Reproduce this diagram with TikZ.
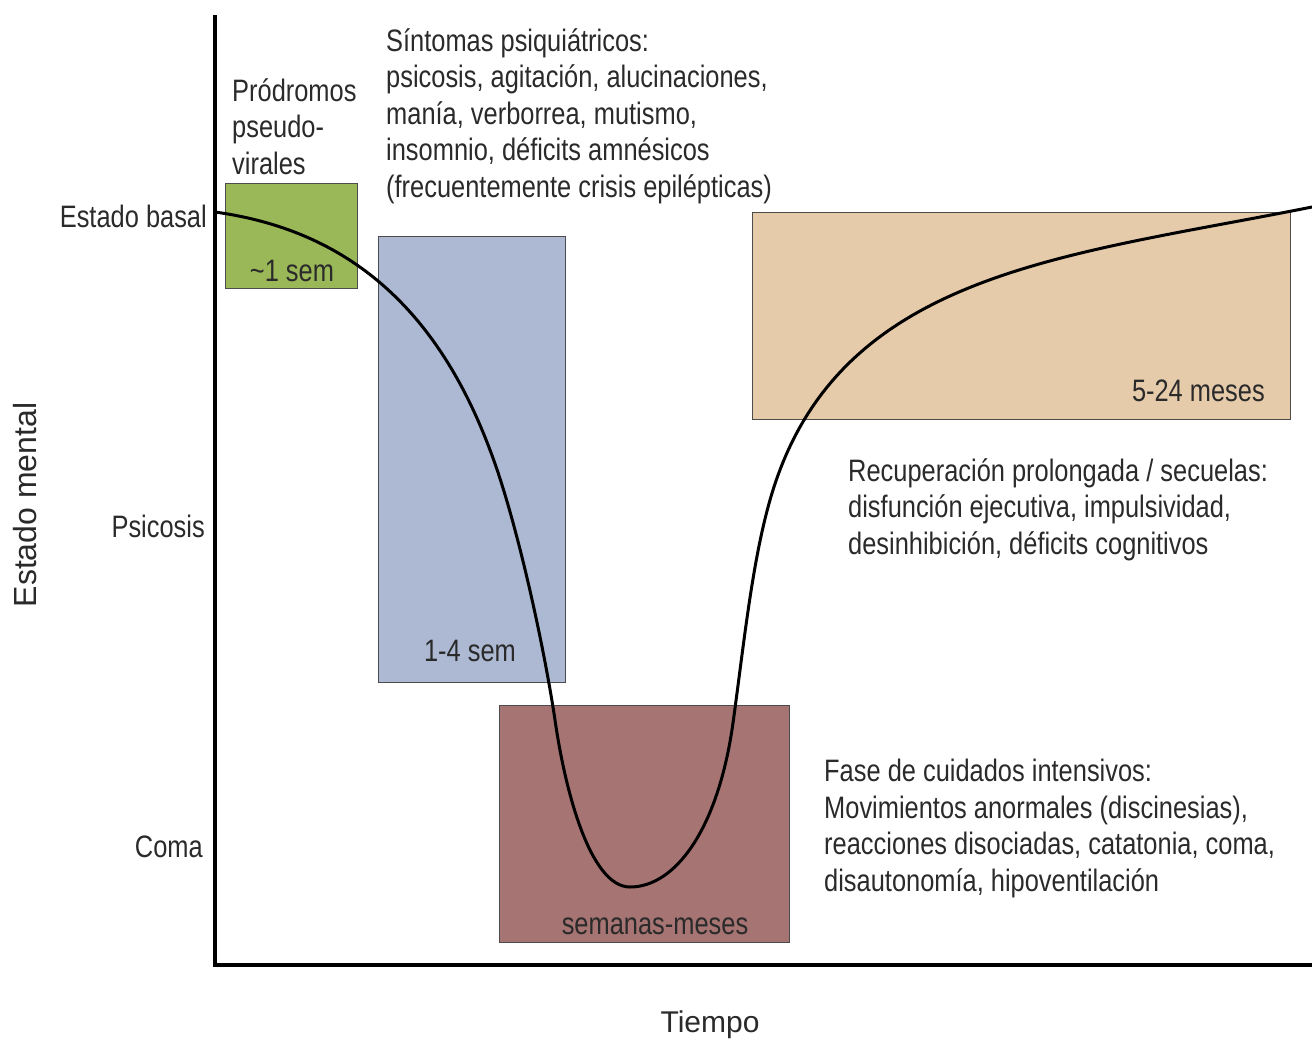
\documentclass[tikz,border=0pt]{standalone}
\usepackage{fontspec}
\setmainfont{Liberation Sans}[FakeStretch=0.82]
\newfontfamily\axisfont{Liberation Sans}
\definecolor{cgreen}{HTML}{9AB858}
\definecolor{cblue}{HTML}{ADB9D3}
\definecolor{cred}{HTML}{A67472}
\definecolor{ctan}{HTML}{E6CBAB}
\definecolor{txt}{HTML}{2A2A2A}
\begin{document}
\begin{tikzpicture}[x=1pt,y=-1pt,
  phase/.style={draw=black!70, line width=1.3pt, anchor=north west, inner sep=0pt},
  lbl/.style={text=txt, font=\fontsize{31}{36.5}\selectfont, inner sep=0pt},
  block/.style={lbl, align=left, anchor=base west},
  axis/.style={line width=3.5pt, black},
  curve/.style={line width=3pt, black}]
\path[use as bounding box] (0,0) rectangle (1312,1042);
% phase boxes
\node[phase, fill=cgreen, minimum width=132pt, minimum height=105pt] (g) at (225,183) {};
\node[phase, fill=cblue, minimum width=187pt, minimum height=446pt] (b) at (378,236) {};
\node[phase, fill=cred, minimum width=290pt, minimum height=237pt] (r) at (499,705) {};
\node[phase, fill=ctan, minimum width=538pt, minimum height=207pt] (t) at (752,212) {};
% axes
\coordinate (ytop) at (215,15);
\coordinate (orig) at (215,965);
\coordinate (xend) at (1312,965);
\draw[axis] (ytop) -- (orig) -- (xend);
% curve
\coordinate (c0) at (215,212);
\coordinate (c1) at (490,450);
\coordinate (c2) at (555,720);
\coordinate (cmin) at (630,887);
\coordinate (c3) at (733,723);
\coordinate (c4) at (770,500);
\coordinate (cend) at (1312,207);
\draw[curve] (c0) .. controls (330,228) and (430,290) .. (c1)
  .. controls (515,515) and (543,640) .. (c2)
  .. controls (565,790) and (590,887) .. (cmin)
  .. controls (675,887) and (718,830) .. (c3)
  .. controls (744,643) and (752,563) .. (c4)
  .. controls (835,272) and (1062,257) .. (cend);
% box labels
\node[lbl, anchor=base] (gl) at (292,281) {\char`\~1 sem};
\node[lbl, anchor=base] (bl) at (470,661) {1-4 sem};
\node[lbl, anchor=base] (rl) at (655,934) {semanas-meses};
\node[lbl, anchor=base east] (tl) at (1265,401) {5-24 meses};
% axis labels
\node[lbl, anchor=base east] (basal) at (207,227) {Estado basal};
\node[lbl, anchor=base east] (psic) at (205,537) {Psicosis};
\node[lbl, anchor=base east] (coma) at (203,857) {Coma};
\node[lbl, font=\axisfont\fontsize{32}{36}\selectfont, rotate=90] (ylab) at (25,505) {Estado mental};
\node[lbl, font=\axisfont\fontsize{30}{36}\selectfont] (xlab) at (710,1025) {Tiempo};
% text blocks (anchored at the baseline of their last line)
\node[block] (prod) at (232,174) {Pródromos\\pseudo-\\virales};
\node[block] (sint) at (386,197) {Síntomas psiquiátricos:\\psicosis, agitación, alucinaciones,\\manía, verborrea, mutismo,\\insomnio, déficits amnésicos\\(frecuentemente crisis epilépticas)};
\node[block] (recu) at (848,554) {Recuperación prolongada / secuelas:\\disfunción ejecutiva, impulsividad,\\desinhibición, déficits cognitivos};
\node[block] (fase) at (824,891) {Fase de cuidados intensivos:\\Movimientos anormales (discinesias),\\reacciones disociadas, catatonia, coma,\\disautonomía, hipoventilación};
\end{tikzpicture}
\end{document}
